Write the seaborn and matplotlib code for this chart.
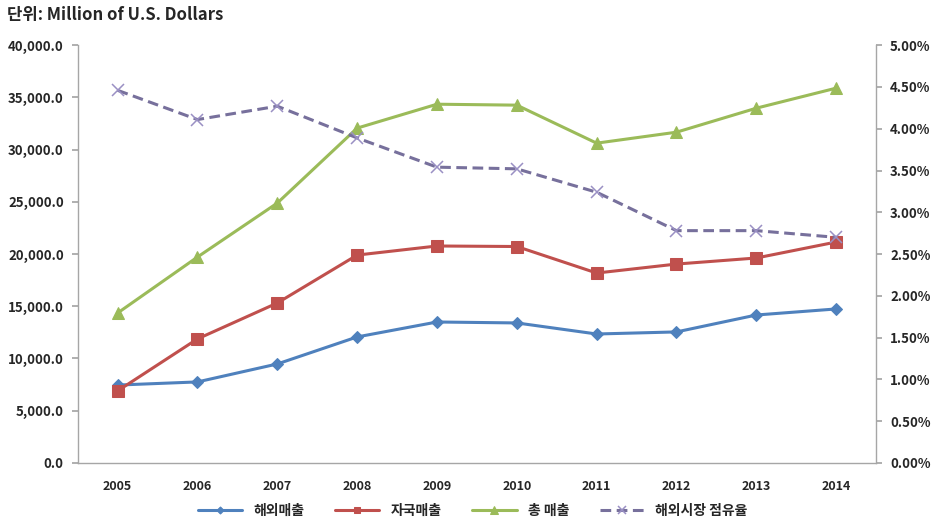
import matplotlib

matplotlib.use("Agg")

import matplotlib.pyplot as plt
import numpy as np
import pandas as pd
import seaborn as sns
from matplotlib.ticker import FuncFormatter, FixedLocator


YEARS = [2005, 2006, 2007, 2008, 2009, 2010, 2011, 2012, 2013, 2014]
OVERSEAS_SALES = [7450, 7750, 9470, 12060, 13490, 13400, 12340, 12540, 14160, 14740]
DOMESTIC_SALES = [6890, 11870, 15310, 19900, 20770, 20720, 18180, 19040, 19620, 21150]
TOTAL_SALES = [14350, 19710, 24880, 32060, 34350, 34260, 30620, 31670, 33970, 35890]
OVERSEAS_SHARE = [4.46, 4.11, 4.27, 3.89, 3.54, 3.52, 3.24, 2.78, 2.78, 2.70]

LABELS = ["해외매출", "자국매출", "총 매출", "해외시장 점유율"]
COLORS = ["#4F81BD", "#C0504D", "#9BBB59", "#77709C"]
FONTS = ["Noto Sans CJK KR", "DejaVu Sans"]


def style_axes(ax, ax2):
    ax.spines["top"].set_visible(False)
    ax2.spines["top"].set_visible(False)
    ax.spines["right"].set_visible(False)
    for sp in [ax.spines["left"], ax.spines["bottom"], ax2.spines["right"]]:
        sp.set_color("#A6A6A6")
        sp.set_linewidth(1.0)
    ax2.spines["left"].set_visible(False)
    ax2.spines["bottom"].set_visible(False)
    ax.grid(False)
    ax2.grid(False)


def main():
    sns.set_theme(style="white")
    plt.rcParams["font.family"] = FONTS

    df = pd.DataFrame(
        {
            "pos": np.arange(len(YEARS)),
            "overseas": OVERSEAS_SALES,
            "domestic": DOMESTIC_SALES,
            "total": TOTAL_SALES,
            "share": OVERSEAS_SHARE,
        }
    )

    fig = plt.figure(figsize=(9.36, 5.32), dpi=100)
    ax = fig.add_axes([0.083, 0.130, 0.853, 0.785])
    ax2 = ax.twinx()

    sns.lineplot(data=df, x="pos", y="overseas", ax=ax, color=COLORS[0], marker="D",
                 markersize=6, linewidth=2.2, markeredgecolor=COLORS[0], label=LABELS[0], legend=False)
    sns.lineplot(data=df, x="pos", y="domestic", ax=ax, color=COLORS[1], marker="s",
                 markersize=8, linewidth=2.2, markeredgecolor=COLORS[1], label=LABELS[1], legend=False)
    sns.lineplot(data=df, x="pos", y="total", ax=ax, color=COLORS[2], marker="^",
                 markersize=9, linewidth=2.2, markeredgecolor=COLORS[2], label=LABELS[2], legend=False)
    sns.lineplot(data=df, x="pos", y="share", ax=ax2, color=COLORS[3], marker="x",
                 markersize=9, linewidth=2.2, linestyle=(0, (3.5, 1.8)), markeredgewidth=1.1,
                 markeredgecolor="#9A90C4", label=LABELS[3], legend=False)

    ax.set_xlim(-0.5, len(YEARS) - 0.5)
    ax.set_ylim(0, 40000)
    ax.set_yticks(np.arange(0, 40001, 5000))
    ax.yaxis.set_major_formatter(FuncFormatter(lambda v, _: f"{v:,.1f}"))
    ax2.set_ylim(0, 5)
    ax2.set_yticks(np.arange(0, 5.01, 0.5))
    ax2.yaxis.set_major_formatter(FuncFormatter(lambda v, _: f"{v:.2f}%"))

    ax.set_xticks(np.arange(len(YEARS)))
    ax.set_xticklabels([str(y) for y in YEARS], fontsize=9, fontweight="bold")
    ax.xaxis.set_minor_locator(FixedLocator(np.arange(-0.5, len(YEARS), 1.0)))
    ax.tick_params(axis="x", which="major", length=0, pad=12)
    ax.tick_params(axis="x", which="minor", length=5, color="#A6A6A6", direction="out")
    ax.tick_params(axis="y", length=4, color="#A6A6A6", direction="out", pad=6)
    ax2.tick_params(axis="y", length=4, color="#A6A6A6", direction="out", pad=6)
    for lab in ax.get_yticklabels() + ax2.get_yticklabels():
        lab.set_fontsize(9.5)
        lab.set_fontweight("bold")
    ax.set_xlabel("")
    ax.set_ylabel("")
    ax2.set_ylabel("")
    style_axes(ax, ax2)

    fig.text(0.008, 0.972, "단위: Million of U.S. Dollars", fontsize=12,
             fontweight="bold", ha="left", va="center")

    handles = ax.get_lines()[:3] + ax2.get_lines()[:1]
    fig.legend(handles, LABELS, loc="center", bbox_to_anchor=(0.505, 0.04), ncol=4,
               frameon=False, prop={"family": FONTS, "weight": "bold", "size": 10},
               handlelength=3.2, columnspacing=2.2, markerscale=0.6)

    fig.savefig("out.png", dpi=100, facecolor="white")
    plt.close(fig)


if __name__ == "__main__":
    main()
